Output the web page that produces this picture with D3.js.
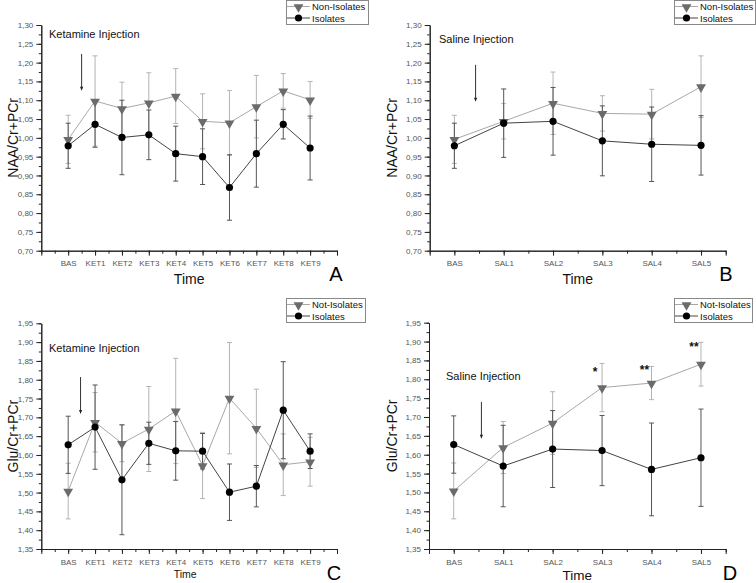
<!DOCTYPE html>
<html><head><meta charset="utf-8">
<script src="https://cdn.jsdelivr.net/npm/d3@7"></script>
<style>
html,body{margin:0;padding:0;background:#fff;}
svg{display:block;font-family:"Liberation Sans",Arial,sans-serif;}
</style></head>
<body>
<script>
// ---------- DATA ----------
const catsKet = ["BAS","KET1","KET2","KET3","KET4","KET5","KET6","KET7","KET8","KET9"];
const catsSal = ["BAS","SAL1","SAL2","SAL3","SAL4","SAL5"];

const naaTicks = [0.70,0.75,0.80,0.85,0.90,0.95,1.00,1.05,1.10,1.15,1.20,1.25,1.30];
const gluTicks = [1.35,1.40,1.45,1.50,1.55,1.60,1.65,1.70,1.75,1.80,1.85,1.90,1.95];

// Panel A: NAA, ketamine
const naaKetNonIso    = [0.996,1.098,1.078,1.093,1.111,1.044,1.040,1.083,1.125,1.101];
const naaKetNonIsoErr = [0.064,0.120,0.070,0.080,0.073,0.073,0.086,0.083,0.046,0.049];
const naaKetIso       = [0.979,1.036,1.001,1.008,0.958,0.950,0.868,0.958,1.036,0.973];
const naaKetIsoErr    = [0.060,0.061,0.099,0.066,0.073,0.074,0.087,0.089,0.039,0.085];
// Panel B: NAA, saline
const naaSalNonIso    = [0.996,1.044,1.092,1.065,1.063,1.136];
const naaSalNonIsoErr = [0.064,0.047,0.083,0.047,0.066,0.082];
const naaSalIso       = [0.979,1.039,1.044,0.992,0.983,0.980];
const naaSalIsoErr    = [0.060,0.091,0.090,0.093,0.099,0.079];
// Panel C: Glu, ketamine
const gluKetNonIso    = [1.504,1.687,1.631,1.669,1.717,1.572,1.751,1.671,1.574,1.582];
const gluKetNonIsoErr = [0.074,0.079,0.049,0.113,0.140,0.088,0.148,0.104,0.082,0.065];
const gluKetIso       = [1.627,1.674,1.534,1.631,1.611,1.610,1.501,1.517,1.719,1.610];
const gluKetIsoErr    = [0.076,0.112,0.146,0.056,0.078,0.047,0.075,0.055,0.129,0.046];
// Panel D: Glu, saline
const gluSalNonIso    = [1.504,1.619,1.684,1.778,1.790,1.840];
const gluSalNonIsoErr = [0.074,0.069,0.083,0.064,0.044,0.058];
const gluSalIso       = [1.627,1.570,1.615,1.611,1.561,1.592];
const gluSalIsoErr    = [0.076,0.108,0.102,0.093,0.123,0.129];

// significance marks in panel D
const sigLabels = ["*","**","**"];
const sigCats   = ["SAL3","SAL4","SAL5"];
const sigValues = [1.822,1.828,1.888];

// ---------- DRAW ----------
const W = 756, H = 583;
const svg = d3.select("body").append("svg").attr("width",W).attr("height",H);

const C_NON_MARK = "#6b6b6b", C_NON_LINE = "#a8a8a8", C_NON_ERR = "#b4b4b4";
const C_ISO_MARK = "#000", C_ISO_LINE = "#444", C_ISO_ERR = "#555";

const panels = [
  {cats:catsKet, yTicks:naaTicks, yTitle:"NAA/Cr+PCr", non:naaKetNonIso, nonErr:naaKetNonIsoErr, iso:naaKetIso, isoErr:naaKetIsoErr,
   xr:[41.3,337], yr:[250.7,25], xdom:[0,11], off:1, letter:"A", lx:336, ly:281, note:"Ketamine Injection", nx:49, ny:38,
   arrow:[1.5,1.223,1.125], legNon:"Non-Isolates", leg:[286,0,82,24], timeSize:14, timeY:284, titleX:18},
  {cats:catsSal, yTicks:naaTicks, yTitle:"NAA/Cr+PCr", non:naaSalNonIso, nonErr:naaSalNonIsoErr, iso:naaSalIso, isoErr:naaSalIsoErr,
   xr:[429.7,725.7], yr:[250.7,25], xdom:[-0.5,5.5], off:0, letter:"B", lx:726, ly:281, note:"Saline Injection", nx:439, ny:43,
   arrow:[0.43,1.194,1.096], legNon:"Non-Isolates", leg:[674,0,81,24], timeSize:14, timeY:284, titleX:397},
  {cats:catsKet, yTicks:gluTicks, yTitle:"Glu/Cr+PCr", non:gluKetNonIso, nonErr:gluKetNonIsoErr, iso:gluKetIso, isoErr:gluKetIsoErr,
   xr:[41.3,337], yr:[549,323.3], xdom:[0,11], off:1, letter:"C", lx:334, ly:580, note:"Ketamine Injection", nx:49, ny:352,
   arrow:[1.46,1.807,1.709], legNon:"Not-Isolates", leg:[286,298,79,24], timeSize:10.5, timeY:578, titleX:18},
  {cats:catsSal, yTicks:gluTicks, yTitle:"Glu/Cr+PCr", non:gluSalNonIso, nonErr:gluSalNonIsoErr, iso:gluSalIso, isoErr:gluSalIsoErr,
   xr:[429,725.7], yr:[549,322.7], xdom:[-0.5,5.5], off:0, letter:"D", lx:730, ly:580, note:"Saline Injection", nx:446, ny:380,
   arrow:[0.56,1.74,1.642], legNon:"Not-Isolates", leg:[674,298,78,24], timeSize:13.5, timeY:580, titleX:397, sig:true}
];

const fmt = v => d3.format(".2f")(v).replace(".",",");
const tri = d3.symbol().type(d3.symbolTriangle).size(42);

panels.forEach(p => {
  const g = svg.append("g");
  const x = d3.scaleLinear().domain(p.xdom).range(p.xr);
  const y = d3.scaleLinear().domain([p.yTicks[0], p.yTicks[p.yTicks.length-1]]).range(p.yr);
  const xi = i => x(i + p.off);

  // minor y ticks
  const yMinor = d3.range(p.yTicks[0], p.yTicks[p.yTicks.length-1]+1e-9, 0.025);
  g.append("g").attr("transform",`translate(${p.xr[0]},0)`)
    .call(d3.axisLeft(y).tickValues(yMinor).tickSize(2.5).tickSizeOuter(0).tickFormat(""))
    .call(a=>a.selectAll("line").attr("stroke","#222"))
    .call(a=>a.select(".domain").attr("stroke","#222"));
  g.append("g").attr("transform",`translate(${p.xr[0]},0)`)
    .call(d3.axisLeft(y).tickValues(p.yTicks).tickSize(5).tickSizeOuter(0).tickPadding(3).tickFormat(fmt))
    .call(a=>a.select(".domain").attr("stroke","#222"))
    .call(a=>a.selectAll("line").attr("stroke","#222"))
    .call(a=>a.selectAll("text").attr("font-size",8).attr("fill","#555").attr("font-family","Liberation Sans, Arial, sans-serif"));

  // x axis
  const xMinor = d3.range(p.xdom[0], p.xdom[1]+1e-9, 0.5);
  g.append("g").attr("transform",`translate(0,${p.yr[0]})`)
    .call(d3.axisBottom(x).tickValues(xMinor).tickSize(3).tickSizeOuter(0).tickFormat(""))
    .call(a=>a.select(".domain").attr("stroke","#222"))
    .call(a=>a.selectAll("line").attr("stroke","#222"));
  const xMajor = [p.xdom[0]].concat(p.cats.map((c,i)=>i+p.off)).concat([p.xdom[1]]);
  g.append("g").attr("transform",`translate(0,${p.yr[0]})`)
    .call(d3.axisBottom(x).tickValues(xMajor).tickSize(5).tickSizeOuter(0).tickPadding(5)
      .tickFormat(v => { const i = Math.round(v - p.off); return (Math.abs(v-p.off-i)<1e-6 && i>=0 && i<p.cats.length) ? p.cats[i] : ""; }))
    .call(a=>a.select(".domain").attr("stroke","#222"))
    .call(a=>a.selectAll("line").attr("stroke","#222"))
    .call(a=>a.selectAll("text").attr("font-size",8).attr("fill","#555").attr("font-family","Liberation Sans, Arial, sans-serif"));

  // titles
  g.append("text").attr("x",(p.xr[0]+p.xr[1])/2 + (p.timeSize<12?-4:0)).attr("y",p.timeY)
    .attr("text-anchor","middle").attr("font-size",p.timeSize).attr("fill","#111").text("Time");
  g.append("text").attr("transform",`translate(${p.titleX},${(p.yr[0]+p.yr[1])/2}) rotate(-90)`)
    .attr("text-anchor","middle").attr("font-size",14).attr("fill","#111").text(p.yTitle);
  g.append("text").attr("x",p.lx).attr("y",p.ly).attr("text-anchor","middle")
    .attr("font-size",20).attr("fill","#000").text(p.letter);
  g.append("text").attr("x",p.nx).attr("y",p.ny).attr("font-size",11).attr("fill","#111").text(p.note);

  // arrow
  const ax = x(p.arrow[0]);
  g.append("line").attr("x1",ax).attr("x2",ax).attr("y1",y(p.arrow[1])).attr("y2",y(p.arrow[2])-3)
    .attr("stroke","#333").attr("stroke-width",1);
  g.append("path").attr("d",`M${ax-1.6},${y(p.arrow[2])-4}L${ax+1.6},${y(p.arrow[2])-4}L${ax},${y(p.arrow[2])}Z`).attr("fill","#222");

  const series = [
    {v:p.non, e:p.nonErr, line:C_NON_LINE, err:C_NON_ERR, mark:"tri"},
    {v:p.iso, e:p.isoErr, line:C_ISO_LINE, err:C_ISO_ERR, mark:"circ"}
  ];
  // error bars
  series.forEach(s => {
    const eg = g.append("g").attr("stroke",s.err).attr("stroke-width",1);
    s.v.forEach((v,i) => {
      const cx = xi(i), t = y(v + s.e[i]), b = y(v - s.e[i]);
      eg.append("line").attr("x1",cx).attr("x2",cx).attr("y1",t).attr("y2",b);
      eg.append("line").attr("x1",cx-2.5).attr("x2",cx+2.5).attr("y1",t).attr("y2",t);
      eg.append("line").attr("x1",cx-2.5).attr("x2",cx+2.5).attr("y1",b).attr("y2",b);
    });
  });
  series.forEach(s => {
    g.append("path").datum(s.v).attr("fill","none").attr("stroke",s.line).attr("stroke-width",1)
      .attr("d", d3.line().x((d,i)=>xi(i)).y(d=>y(d)));
    s.v.forEach((v,i) => {
      if (s.mark==="tri") {
        g.append("path").attr("d",tri()).attr("transform",`translate(${xi(i)},${y(v)+0.5}) rotate(180)`).attr("fill",C_NON_MARK);
      } else {
        g.append("circle").attr("cx",xi(i)).attr("cy",y(v)).attr("r",3.6).attr("fill",C_ISO_MARK);
      }
    });
  });

  if (p.sig) {
    sigLabels.forEach((lab,k) => {
      const i = p.cats.indexOf(sigCats[k]);
      g.append("text").attr("x",xi(i)-7).attr("y",y(sigValues[k])+5).attr("text-anchor","middle")
        .attr("font-size",12).attr("font-weight","bold").attr("fill","#111").text(lab);
    });
  }

  // legend
  const [lx,ly,lw,lh] = p.leg;
  const lg = g.append("g");
  lg.append("rect").attr("x",lx+0.5).attr("y",ly+0.5).attr("width",lw).attr("height",lh)
    .attr("fill","#fff").attr("stroke","#888").attr("stroke-width",1);
  const rows = [{t:p.legNon, line:C_NON_LINE, mark:"tri"},{t:"Isolates", line:C_ISO_LINE, mark:"circ"}];
  rows.forEach((r,k) => {
    const ry = ly + 6.5 + k*11.5;
    lg.append("line").attr("x1",lx+1).attr("x2",lx+24).attr("y1",ry).attr("y2",ry).attr("stroke",r.line);
    if (r.mark==="tri") lg.append("path").attr("d",tri()).attr("transform",`translate(${lx+12.5},${ry+0.5}) rotate(180)`).attr("fill",C_NON_MARK);
    else lg.append("circle").attr("cx",lx+12.5).attr("cy",ry).attr("r",3.6).attr("fill","#000");
    lg.append("text").attr("x",lx+26).attr("y",ry+3.5).attr("font-size",9.5).attr("fill","#111").text(r.t);
  });
});
</script>
</body></html>
